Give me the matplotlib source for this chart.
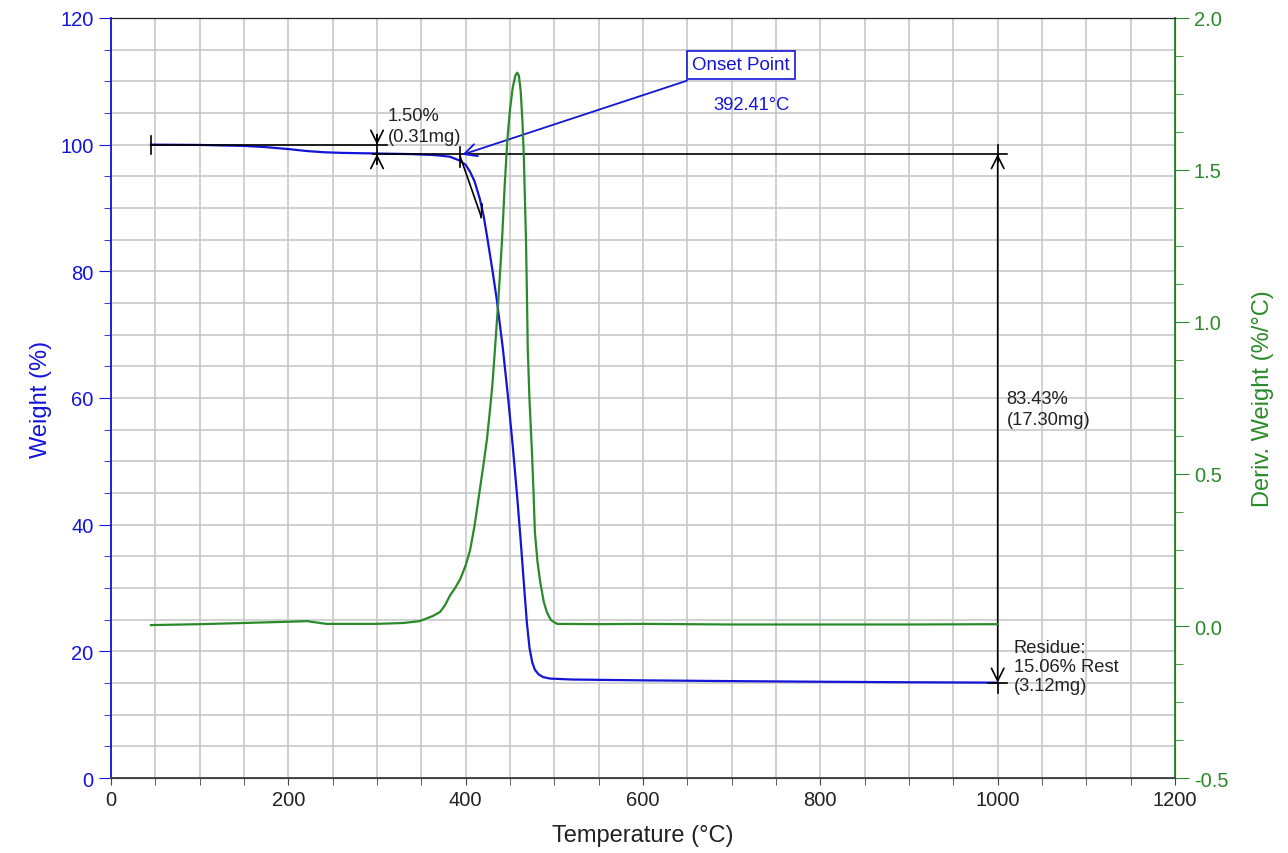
import numpy as np
import matplotlib
matplotlib.use("Agg")
import matplotlib.pyplot as plt
from matplotlib.ticker import MultipleLocator

plt.rcParams['font.family'] = ['Liberation Sans', 'DejaVu Sans']

# weight curve (TGA)
temp_w = [45, 100, 150, 175, 200, 220, 240, 260, 300, 340, 365, 382, 393, 400, 405, 410, 416, 420,
          424, 430, 435, 442, 448, 453, 458, 462, 466, 469, 472, 475, 478, 482, 487, 495, 520,
          600, 700, 800, 900, 1000]
weight = [100.0, 99.95, 99.8, 99.6, 99.3, 99.0, 98.8, 98.7, 98.6, 98.5, 98.35, 98.1, 97.5, 96.8,
          95.7, 94.2, 91.4, 88.9, 85.6, 80.3, 75.6, 67.7, 59.8, 52.5, 44.5, 37.5, 30.0, 24.5,
          20.5, 18.3, 17.1, 16.4, 15.95, 15.7, 15.55, 15.42, 15.3, 15.2, 15.12, 15.06]

# derivative curve (DTG)
temp_d = [45, 100, 150, 200, 221, 243, 300, 330, 348, 363, 371, 377, 382, 388, 394, 400, 405, 410,
          413, 416, 420, 424, 427, 430, 433, 437, 441, 444, 447, 450, 453, 456, 458, 460, 462,
          464, 465.5, 467, 468, 469, 470, 472, 474.6, 476.5, 478, 481, 484, 488, 491.5, 496, 503,
          550, 600, 700, 800, 900, 1000]
deriv = [0.003, 0.006, 0.010, 0.014, 0.016, 0.007, 0.007, 0.010, 0.016, 0.033, 0.046, 0.07, 0.099,
         0.125, 0.155, 0.20, 0.25, 0.33, 0.39, 0.45, 0.53, 0.615, 0.70, 0.79, 0.91, 1.08, 1.27,
         1.45, 1.60, 1.70, 1.77, 1.81, 1.82, 1.81, 1.76, 1.66, 1.55, 1.38, 1.27, 1.10, 0.91,
         0.74, 0.58, 0.44, 0.31, 0.21, 0.145, 0.08, 0.046, 0.02, 0.007, 0.006, 0.007, 0.005,
         0.005, 0.005, 0.006]

blue = '#1414d8'
green = '#2a8a2a'
onset_temp = 392.41
step1_txt = "1.50%\n(0.31mg)"
step2_txt = "83.43%\n(17.30mg)"
residue_txt = "Residue:\n15.06% Rest\n(3.12mg)"

fig = plt.figure(figsize=(12.88, 8.54), dpi=100)
ax = fig.add_axes([0.0862, 0.0878, 0.8261, 0.89])
ax2 = ax.twinx()

ax.set_xlim(0, 1200)
ax.set_ylim(0, 120)
ax2.set_ylim(-0.5, 2.0)

ax.xaxis.set_major_locator(MultipleLocator(200))
ax.xaxis.set_minor_locator(MultipleLocator(50))
ax.yaxis.set_major_locator(MultipleLocator(20))
ax.yaxis.set_minor_locator(MultipleLocator(5))
ax2.yaxis.set_major_locator(MultipleLocator(0.5))
ax2.yaxis.set_minor_locator(MultipleLocator(0.125))
ax2.yaxis.set_major_formatter(matplotlib.ticker.FormatStrFormatter('%.1f'))

ax.grid(True, which='both', color='#c8c8c8', lw=1.2)
ax.set_axisbelow(True)

ax.tick_params(axis='x', which='both', length=5, color='#444444', labelsize=14.5, labelcolor='#222222')
ax.tick_params(axis='y', which='major', length=9, color=blue, labelsize=14.5, labelcolor=blue)
ax.tick_params(axis='y', which='minor', length=5, color=blue)
ax2.tick_params(axis='y', which='major', length=10, color=green, labelsize=14.5, labelcolor=green)
ax2.tick_params(axis='y', which='minor', length=6, color=green)

ax.spines['left'].set_color(blue)
ax.spines['left'].set_linewidth(1.3)
ax2.spines['left'].set_visible(False)
ax2.spines['right'].set_color(green)
ax2.spines['right'].set_linewidth(1.3)
ax2.spines['top'].set_color('#222222')
ax2.spines['bottom'].set_color('#444444')
ax2.spines['bottom'].set_linewidth(1.3)

ax.set_xlabel('Temperature (°C)', fontsize=17, color='#222222', labelpad=11)
ax.set_ylabel('Weight (%)', fontsize=17, color=blue, labelpad=6)
ax2.set_ylabel('Deriv. Weight (%/°C)', fontsize=17, color=green, labelpad=17)

ax.plot(temp_w, weight, color=blue, lw=1.6, zorder=3)
ax2.plot(temp_d, deriv, color=green, lw=1.6, zorder=3)

k = dict(color='black', lw=1.2, zorder=4)
head = dict(arrowstyle='->,head_length=0.5,head_width=0.25', color='black', lw=1.2, mutation_scale=18,
            shrinkA=0, shrinkB=0)
# first step markers
ax.plot([45, 311], [100, 100], **k)
ax.plot([45, 45], [98.5, 101.4], **k)
ax.plot([295, 1011], [98.5, 98.5], **k)
ax.plot([300, 300], [97.0, 101.6], **k)
ax.annotate('', xy=(300, 100), xytext=(300, 101.6), arrowprops=head, zorder=4)
ax.annotate('', xy=(300, 98.5), xytext=(300, 97.0), arrowprops=head, zorder=4)
ax.text(312, 102.9, step1_txt, fontsize=13.2, color='#222222', va='center', ha='left', linespacing=1.3)

# tangent at onset
ax.plot([393.6, 417.3], [98.2, 88.7], **k)
ax.plot([394, 394], [96.5, 99.6], **k)
ax.plot([417.3, 418.5], [88.5, 90.6], **k)

# main step
ax.plot([1000, 1000], [97.3, 100], **k)
ax.annotate('', xy=(1000, 98.5), xytext=(1000, 15.06),
            arrowprops=dict(arrowstyle='<->,head_length=0.5,head_width=0.25', color='black', lw=1.2,
                            mutation_scale=18, shrinkA=0, shrinkB=0), zorder=4)
ax.plot([989, 1011], [15.06, 15.06], **k)
ax.plot([1000, 1000], [13.5, 15.06], **k)
ax.text(1010, 58.3, step2_txt, fontsize=13.2, color='#222222', va='center', ha='left', linespacing=1.3)
ax.text(1018, 17.6, residue_txt, fontsize=13.2, color='#222222', va='center', ha='left', linespacing=1.15)

# onset annotation
ax.annotate('', xy=(396, 98.4), xytext=(649.6, 110.1),
            arrowprops=dict(arrowstyle='->,head_length=0.5,head_width=0.25', color=blue, lw=1.3,
                            mutation_scale=18, shrinkA=0, shrinkB=0),
            zorder=5)
ax.text(710.5, 112.6, 'Onset Point', fontsize=13.5, color=blue, ha='center', va='center',
        bbox=dict(boxstyle='square,pad=0.3', fc='white', ec=blue, lw=1.2), zorder=6)
ax.text(722, 106.3, f'{onset_temp:.2f}°C', fontsize=13.2, color=blue, ha='center', va='center')

fig.savefig('out.png', dpi=100)
